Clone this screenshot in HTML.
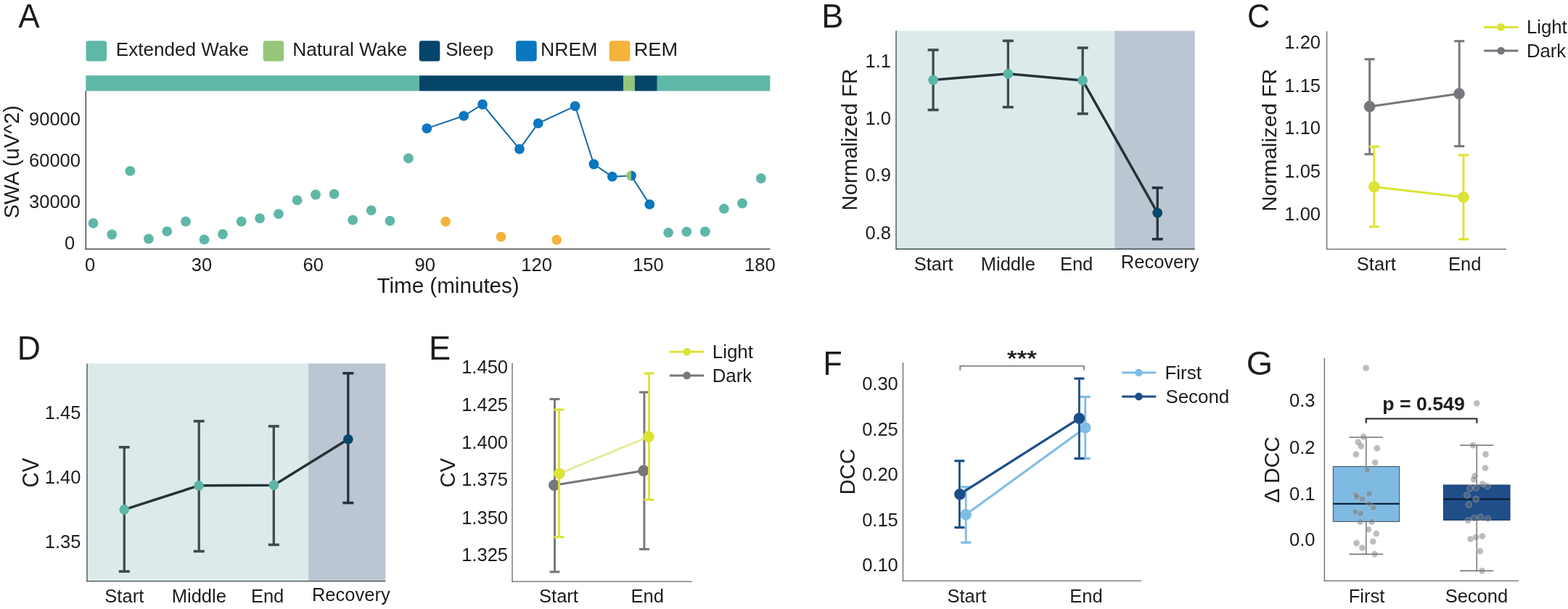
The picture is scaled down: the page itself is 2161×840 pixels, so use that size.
<!DOCTYPE html>
<html><head><meta charset="utf-8"><title>Figure</title>
<style>
html,body{margin:0;padding:0;background:#fff;}
body{width:2161px;height:840px;overflow:hidden;}
svg{display:block;font-family:"Liberation Sans", Arial, Helvetica, sans-serif;}
</style></head>
<body>
<svg width="2161" height="840" viewBox="0 0 2161 840">
<rect x="0" y="0" width="2161" height="840" fill="#fff"/>
<text x="25.21" y="38.10" font-size="46" fill="#1c1c1c" textLength="29.47" lengthAdjust="spacingAndGlyphs">A</text>
<rect x="118.5" y="56.2" width="28.6" height="28.2" rx="3.5" fill="#5fb7a8"/>
<rect x="362.6" y="56.2" width="28.6" height="28.2" rx="3.5" fill="#95c67a"/>
<rect x="577.7" y="56.2" width="28.6" height="28.2" rx="3.5" fill="#044569"/>
<rect x="711.1" y="56.2" width="28.6" height="28.2" rx="3.5" fill="#0a77bf"/>
<rect x="839.8" y="56.2" width="28.6" height="28.2" rx="3.5" fill="#f4b33d"/>
<text x="159.87" y="76.90" font-size="26.5" fill="#1c1c1c" textLength="183.08" lengthAdjust="spacingAndGlyphs">Extended Wake</text>
<text x="403.26" y="76.90" font-size="26.5" fill="#1c1c1c" textLength="157.90" lengthAdjust="spacingAndGlyphs">Natural Wake</text>
<text x="614.13" y="76.90" font-size="26.5" fill="#1c1c1c" textLength="66.06" lengthAdjust="spacingAndGlyphs">Sleep</text>
<text x="745.02" y="76.90" font-size="26.5" fill="#1c1c1c" textLength="78.26" lengthAdjust="spacingAndGlyphs">NREM</text>
<text x="873.78" y="76.90" font-size="26.5" fill="#1c1c1c" textLength="60.25" lengthAdjust="spacingAndGlyphs">REM</text>
<rect x="118.3" y="104.2" width="459.7" height="21.3" fill="#5fb7a8"/>
<rect x="578.0" y="104.2" width="281.3" height="21.3" fill="#044569"/>
<rect x="859.3" y="104.2" width="15.5" height="21.3" fill="#95c67a"/>
<rect x="874.8" y="104.2" width="31.0" height="21.3" fill="#044569"/>
<rect x="905.8" y="104.2" width="155.5" height="21.3" fill="#5fb7a8"/>
<line x1="118.3" y1="125.5" x2="118.3" y2="344.3" stroke="#4a4a4a" stroke-width="1.5"/>
<line x1="117.6" y1="343.6" x2="1061.5" y2="343.6" stroke="#4a4a4a" stroke-width="1.5"/>
<text x="111.0" y="172.7" font-size="25.5" text-anchor="end" fill="#1c1c1c">90000</text>
<text x="111.0" y="230.1" font-size="25.5" text-anchor="end" fill="#1c1c1c">60000</text>
<text x="111.0" y="287.3" font-size="25.5" text-anchor="end" fill="#1c1c1c">30000</text>
<text x="103.1" y="344.3" font-size="25.5" text-anchor="end" fill="#1c1c1c">0</text>
<text x="124.1" y="373.5" font-size="25.5" text-anchor="middle" fill="#1c1c1c">0</text>
<text x="278.0" y="373.5" font-size="25.5" text-anchor="middle" fill="#1c1c1c">30</text>
<text x="431.8" y="373.5" font-size="25.5" text-anchor="middle" fill="#1c1c1c">60</text>
<text x="585.7" y="373.5" font-size="25.5" text-anchor="middle" fill="#1c1c1c">90</text>
<text x="739.6" y="373.5" font-size="25.5" text-anchor="middle" fill="#1c1c1c">120</text>
<text x="893.4" y="373.5" font-size="25.5" text-anchor="middle" fill="#1c1c1c">150</text>
<text x="1047.3" y="373.5" font-size="25.5" text-anchor="middle" fill="#1c1c1c">180</text>
<text x="519.44" y="404.40" font-size="29.3" fill="#1c1c1c" textLength="196.29" lengthAdjust="spacingAndGlyphs">Time (minutes)</text>
<text transform="translate(25.80,301.29) rotate(-90)" x="0" y="0" font-size="29.8" fill="#1c1c1c" textLength="155.96" lengthAdjust="spacingAndGlyphs">SWA (uV^2)</text>
<circle cx="128.5" cy="307.9" r="6.9" fill="#5fb7a8"/>
<circle cx="154.2" cy="323.5" r="6.9" fill="#5fb7a8"/>
<circle cx="179.4" cy="235.9" r="6.9" fill="#5fb7a8"/>
<circle cx="204.8" cy="329.3" r="6.9" fill="#5fb7a8"/>
<circle cx="230.3" cy="319.2" r="6.9" fill="#5fb7a8"/>
<circle cx="256.0" cy="305.5" r="6.9" fill="#5fb7a8"/>
<circle cx="281.5" cy="330.4" r="6.9" fill="#5fb7a8"/>
<circle cx="307.0" cy="323.0" r="6.9" fill="#5fb7a8"/>
<circle cx="332.7" cy="305.5" r="6.9" fill="#5fb7a8"/>
<circle cx="358.1" cy="301.1" r="6.9" fill="#5fb7a8"/>
<circle cx="383.9" cy="295.1" r="6.9" fill="#5fb7a8"/>
<circle cx="409.6" cy="276.2" r="6.9" fill="#5fb7a8"/>
<circle cx="435.0" cy="268.5" r="6.9" fill="#5fb7a8"/>
<circle cx="460.5" cy="267.7" r="6.9" fill="#5fb7a8"/>
<circle cx="486.2" cy="303.3" r="6.9" fill="#5fb7a8"/>
<circle cx="511.7" cy="290.1" r="6.9" fill="#5fb7a8"/>
<circle cx="537.4" cy="304.7" r="6.9" fill="#5fb7a8"/>
<circle cx="562.9" cy="218.4" r="6.9" fill="#5fb7a8"/>
<circle cx="921.1" cy="320.8" r="6.9" fill="#5fb7a8"/>
<circle cx="946.3" cy="319.7" r="6.9" fill="#5fb7a8"/>
<circle cx="971.8" cy="319.5" r="6.9" fill="#5fb7a8"/>
<circle cx="997.8" cy="287.9" r="6.9" fill="#5fb7a8"/>
<circle cx="1023.0" cy="280.5" r="6.9" fill="#5fb7a8"/>
<circle cx="1048.8" cy="246.0" r="6.9" fill="#5fb7a8"/>
<circle cx="614.1" cy="305.7" r="6.9" fill="#f4b33d"/>
<circle cx="690.5" cy="326.7" r="6.9" fill="#f4b33d"/>
<circle cx="767.2" cy="330.8" r="6.9" fill="#f4b33d"/>
<polyline points="588.3,177.1 639.2,159.8 665.0,144.0 716.0,205.7 741.7,170.1 792.6,146.3 818.4,226.5 843.8,243.7 869.9,242.3 895.3,281.9" fill="none" stroke="#1668a6" stroke-width="2.0" stroke-linejoin="round"/>
<circle cx="588.3" cy="177.1" r="6.9" fill="#0a77bf"/>
<circle cx="639.2" cy="159.8" r="6.9" fill="#0a77bf"/>
<circle cx="665.0" cy="144.0" r="6.9" fill="#0a77bf"/>
<circle cx="716.0" cy="205.7" r="6.9" fill="#0a77bf"/>
<circle cx="741.7" cy="170.1" r="6.9" fill="#0a77bf"/>
<circle cx="792.6" cy="146.3" r="6.9" fill="#0a77bf"/>
<circle cx="818.4" cy="226.5" r="6.9" fill="#0a77bf"/>
<circle cx="843.8" cy="243.7" r="6.9" fill="#0a77bf"/>
<circle cx="869.9" cy="242.3" r="6.9" fill="#95c67a"/>
<path d="M869.9,235.4 A6.9,6.9 0 0 1 869.9,249.2 Z" fill="#0a77bf"/>
<circle cx="895.3" cy="281.9" r="6.9" fill="#0a77bf"/>
<text x="1132.29" y="37.70" font-size="46" fill="#1c1c1c" textLength="30.20" lengthAdjust="spacingAndGlyphs">B</text>
<rect x="1235.0" y="42.5" width="301.1" height="301.0" fill="#dcebea"/>
<rect x="1536.1" y="42.5" width="110.6" height="301.0" fill="#bcc6d2"/>
<line x1="1235.0" y1="42.5" x2="1235.0" y2="344.1" stroke="#3b474d" stroke-width="1.3"/>
<line x1="1234.4" y1="343.5" x2="1646.7" y2="343.5" stroke="#3b474d" stroke-width="1.3"/>
<text x="1228.0" y="92.7" font-size="25.5" text-anchor="end" fill="#1c1c1c">1.1</text>
<text x="1228.0" y="171.6" font-size="25.5" text-anchor="end" fill="#1c1c1c">1.0</text>
<text x="1228.0" y="250.1" font-size="25.5" text-anchor="end" fill="#1c1c1c">0.9</text>
<text x="1228.0" y="329.7" font-size="25.5" text-anchor="end" fill="#1c1c1c">0.8</text>
<text x="1286.7" y="372.6" font-size="25.5" text-anchor="middle" fill="#1c1c1c">Start</text>
<text x="1389.3" y="372.6" font-size="25.5" text-anchor="middle" fill="#1c1c1c">Middle</text>
<text x="1483.6" y="372.6" font-size="25.5" text-anchor="middle" fill="#1c1c1c">End</text>
<text x="1598.7" y="370.2" font-size="25.5" text-anchor="middle" fill="#1c1c1c">Recovery</text>
<text transform="translate(1180.90,290.51) rotate(-90)" x="0" y="0" font-size="29.0" fill="#1c1c1c" textLength="195.67" lengthAdjust="spacingAndGlyphs">Normalized FR</text>
<line x1="1286.1" y1="68.9" x2="1286.1" y2="151.6" stroke="#3d4b4e" stroke-width="3.3"/>
<line x1="1278.6" y1="68.9" x2="1293.6" y2="68.9" stroke="#3d4b4e" stroke-width="3.6"/>
<line x1="1278.6" y1="151.6" x2="1293.6" y2="151.6" stroke="#3d4b4e" stroke-width="3.6"/>
<line x1="1389.3" y1="56.3" x2="1389.3" y2="147.8" stroke="#3d4b4e" stroke-width="3.3"/>
<line x1="1381.8" y1="56.3" x2="1396.8" y2="56.3" stroke="#3d4b4e" stroke-width="3.6"/>
<line x1="1381.8" y1="147.8" x2="1396.8" y2="147.8" stroke="#3d4b4e" stroke-width="3.6"/>
<line x1="1492.1" y1="66.0" x2="1492.1" y2="156.9" stroke="#3d4b4e" stroke-width="3.3"/>
<line x1="1484.6" y1="66.0" x2="1499.6" y2="66.0" stroke="#3d4b4e" stroke-width="3.6"/>
<line x1="1484.6" y1="156.9" x2="1499.6" y2="156.9" stroke="#3d4b4e" stroke-width="3.6"/>
<line x1="1595.2" y1="259.0" x2="1595.2" y2="329.8" stroke="#26303e" stroke-width="3.3"/>
<line x1="1587.7" y1="259.0" x2="1602.7" y2="259.0" stroke="#26303e" stroke-width="3.6"/>
<line x1="1587.7" y1="329.8" x2="1602.7" y2="329.8" stroke="#26303e" stroke-width="3.6"/>
<polyline points="1286.1,110.3 1389.3,101.8 1492.1,110.9 1595.2,293.6" fill="none" stroke="#263238" stroke-width="3.5" stroke-linejoin="round"/>
<circle cx="1286.1" cy="110.3" r="6.9" fill="#5db5a6"/>
<circle cx="1389.3" cy="101.8" r="6.9" fill="#5db5a6"/>
<circle cx="1492.1" cy="110.9" r="6.9" fill="#5db5a6"/>
<circle cx="1595.2" cy="293.6" r="6.9" fill="#08466c"/>
<text x="1718.99" y="37.60" font-size="46" fill="#1c1c1c" textLength="31.36" lengthAdjust="spacingAndGlyphs">C</text>
<line x1="1828.6" y1="43.0" x2="1828.6" y2="344.3" stroke="#666" stroke-width="1.3"/>
<line x1="1828.0" y1="343.7" x2="2076.0" y2="343.7" stroke="#666" stroke-width="1.3"/>
<text x="1820.0" y="67.1" font-size="25.5" text-anchor="end" fill="#1c1c1c">1.20</text>
<text x="1820.0" y="126.5" font-size="25.5" text-anchor="end" fill="#1c1c1c">1.15</text>
<text x="1820.0" y="184.7" font-size="25.5" text-anchor="end" fill="#1c1c1c">1.10</text>
<text x="1820.0" y="244.7" font-size="25.5" text-anchor="end" fill="#1c1c1c">1.05</text>
<text x="1820.0" y="303.6" font-size="25.5" text-anchor="end" fill="#1c1c1c">1.00</text>
<text x="1896.8" y="373.0" font-size="25.5" text-anchor="middle" fill="#1c1c1c">Start</text>
<text x="2018.8" y="373.0" font-size="25.5" text-anchor="middle" fill="#1c1c1c">End</text>
<text transform="translate(1758.70,291.82) rotate(-90)" x="0" y="0" font-size="28.5" fill="#1c1c1c" textLength="196.99" lengthAdjust="spacingAndGlyphs">Normalized FR</text>
<line x1="1887.6" y1="81.7" x2="1887.6" y2="212.7" stroke="#76777d" stroke-width="2.9"/>
<line x1="1880.6" y1="81.7" x2="1894.6" y2="81.7" stroke="#76777d" stroke-width="3.1"/>
<line x1="1880.6" y1="212.7" x2="1894.6" y2="212.7" stroke="#76777d" stroke-width="3.1"/>
<line x1="2011.2" y1="56.7" x2="2011.2" y2="201.7" stroke="#76777d" stroke-width="2.9"/>
<line x1="2004.2" y1="56.7" x2="2018.2" y2="56.7" stroke="#76777d" stroke-width="3.1"/>
<line x1="2004.2" y1="201.7" x2="2018.2" y2="201.7" stroke="#76777d" stroke-width="3.1"/>
<polyline points="1887.6,146.9 2011.0,129.3" fill="none" stroke="#76777d" stroke-width="3.0" stroke-linejoin="round"/>
<circle cx="1887.6" cy="146.9" r="7.8" fill="#76777d"/>
<circle cx="2011.0" cy="129.3" r="7.8" fill="#76777d"/>
<line x1="1893.8" y1="202.3" x2="1893.8" y2="312.8" stroke="#dde334" stroke-width="2.9"/>
<line x1="1886.8" y1="202.3" x2="1900.8" y2="202.3" stroke="#dde334" stroke-width="3.1"/>
<line x1="1886.8" y1="312.8" x2="1900.8" y2="312.8" stroke="#dde334" stroke-width="3.1"/>
<line x1="2017.0" y1="214.0" x2="2017.0" y2="330.0" stroke="#dde334" stroke-width="2.9"/>
<line x1="2010.0" y1="214.0" x2="2024.0" y2="214.0" stroke="#dde334" stroke-width="3.1"/>
<line x1="2010.0" y1="330.0" x2="2024.0" y2="330.0" stroke="#dde334" stroke-width="3.1"/>
<polyline points="1893.8,257.8 2017.0,272.1" fill="none" stroke="#dde334" stroke-width="3.0" stroke-linejoin="round"/>
<circle cx="1893.8" cy="257.8" r="7.8" fill="#dde334"/>
<circle cx="2017.0" cy="272.1" r="7.8" fill="#dde334"/>
<line x1="2045.2" y1="37.4" x2="2092.4" y2="37.4" stroke="#dde334" stroke-width="3.0"/>
<circle cx="2068.6" cy="37.4" r="5.3" fill="#dde334"/>
<line x1="2045.2" y1="70.0" x2="2092.4" y2="70.0" stroke="#76777d" stroke-width="3.0"/>
<circle cx="2068.6" cy="70.0" r="5.3" fill="#76777d"/>
<text x="2103.89" y="46.00" font-size="25.8" fill="#1c1c1c" textLength="55.90" lengthAdjust="spacingAndGlyphs">Light</text>
<text x="2103.89" y="78.60" font-size="25.8" fill="#1c1c1c" textLength="54.37" lengthAdjust="spacingAndGlyphs">Dark</text>
<text x="23.75" y="496.00" font-size="46" fill="#1c1c1c" textLength="32.13" lengthAdjust="spacingAndGlyphs">D</text>
<rect x="120.0" y="501.4" width="305.1" height="300.2" fill="#dcebea"/>
<rect x="425.1" y="501.4" width="106.2" height="300.2" fill="#bcc6d2"/>
<line x1="120.0" y1="501.4" x2="120.0" y2="802.2" stroke="#3b474d" stroke-width="1.3"/>
<line x1="119.4" y1="801.6" x2="531.3" y2="801.6" stroke="#3b474d" stroke-width="1.3"/>
<text x="111.4" y="578.1" font-size="25.5" text-anchor="end" fill="#1c1c1c">1.45</text>
<text x="111.4" y="666.8" font-size="25.5" text-anchor="end" fill="#1c1c1c">1.40</text>
<text x="111.4" y="755.5" font-size="25.5" text-anchor="end" fill="#1c1c1c">1.35</text>
<text x="171.3" y="830.8" font-size="25.5" text-anchor="middle" fill="#1c1c1c">Start</text>
<text x="274.3" y="831.4" font-size="25.5" text-anchor="middle" fill="#1c1c1c">Middle</text>
<text x="368.6" y="831.4" font-size="25.5" text-anchor="middle" fill="#1c1c1c">End</text>
<text x="483.8" y="828.6" font-size="25.5" text-anchor="middle" fill="#1c1c1c">Recovery</text>
<text transform="translate(52.80,672.39) rotate(-90)" x="0" y="0" font-size="30.6" fill="#1c1c1c" textLength="40.72" lengthAdjust="spacingAndGlyphs">CV</text>
<line x1="171.3" y1="616.8" x2="171.3" y2="788.2" stroke="#3d4b4e" stroke-width="3.3"/>
<line x1="163.8" y1="616.8" x2="178.8" y2="616.8" stroke="#3d4b4e" stroke-width="3.6"/>
<line x1="163.8" y1="788.2" x2="178.8" y2="788.2" stroke="#3d4b4e" stroke-width="3.6"/>
<line x1="274.2" y1="580.9" x2="274.2" y2="760.4" stroke="#3d4b4e" stroke-width="3.3"/>
<line x1="266.7" y1="580.9" x2="281.7" y2="580.9" stroke="#3d4b4e" stroke-width="3.6"/>
<line x1="266.7" y1="760.4" x2="281.7" y2="760.4" stroke="#3d4b4e" stroke-width="3.6"/>
<line x1="377.3" y1="587.9" x2="377.3" y2="751.4" stroke="#3d4b4e" stroke-width="3.3"/>
<line x1="369.8" y1="587.9" x2="384.8" y2="587.9" stroke="#3d4b4e" stroke-width="3.6"/>
<line x1="369.8" y1="751.4" x2="384.8" y2="751.4" stroke="#3d4b4e" stroke-width="3.6"/>
<line x1="479.8" y1="514.8" x2="479.8" y2="693.6" stroke="#26303e" stroke-width="3.3"/>
<line x1="472.3" y1="514.8" x2="487.3" y2="514.8" stroke="#26303e" stroke-width="3.6"/>
<line x1="472.3" y1="693.6" x2="487.3" y2="693.6" stroke="#26303e" stroke-width="3.6"/>
<polyline points="171.3,702.8 273.9,669.8 377.4,669.2 479.8,605.8" fill="none" stroke="#263238" stroke-width="3.5" stroke-linejoin="round"/>
<circle cx="171.3" cy="702.8" r="6.9" fill="#5db5a6"/>
<circle cx="273.9" cy="669.8" r="6.9" fill="#5db5a6"/>
<circle cx="377.4" cy="669.2" r="6.9" fill="#5db5a6"/>
<circle cx="479.8" cy="605.8" r="6.9" fill="#08466c"/>
<text x="591.09" y="496.40" font-size="46" fill="#1c1c1c" textLength="30.15" lengthAdjust="spacingAndGlyphs">E</text>
<line x1="706.0" y1="500.7" x2="706.0" y2="802.8" stroke="#666" stroke-width="1.3"/>
<line x1="705.4" y1="802.2" x2="953.8" y2="802.2" stroke="#666" stroke-width="1.3"/>
<text x="700.0" y="515.1" font-size="25.5" text-anchor="end" fill="#1c1c1c">1.450</text>
<text x="700.0" y="567.4" font-size="25.5" text-anchor="end" fill="#1c1c1c">1.425</text>
<text x="700.0" y="618.7" font-size="25.5" text-anchor="end" fill="#1c1c1c">1.400</text>
<text x="700.0" y="670.4" font-size="25.5" text-anchor="end" fill="#1c1c1c">1.375</text>
<text x="700.0" y="722.6" font-size="25.5" text-anchor="end" fill="#1c1c1c">1.350</text>
<text x="700.0" y="774.1" font-size="25.5" text-anchor="end" fill="#1c1c1c">1.325</text>
<text x="770.0" y="831.3" font-size="25.5" text-anchor="middle" fill="#1c1c1c">Start</text>
<text x="892.3" y="831.3" font-size="25.5" text-anchor="middle" fill="#1c1c1c">End</text>
<text transform="translate(626.60,672.38) rotate(-90)" x="0" y="0" font-size="30.0" fill="#1c1c1c" textLength="40.51" lengthAdjust="spacingAndGlyphs">CV</text>
<line x1="764.5" y1="550.5" x2="764.5" y2="788.8" stroke="#76777d" stroke-width="2.9"/>
<line x1="757.5" y1="550.5" x2="771.5" y2="550.5" stroke="#76777d" stroke-width="3.1"/>
<line x1="757.5" y1="788.8" x2="771.5" y2="788.8" stroke="#76777d" stroke-width="3.1"/>
<line x1="887.9" y1="541.0" x2="887.9" y2="757.5" stroke="#76777d" stroke-width="2.9"/>
<line x1="880.9" y1="541.0" x2="894.9" y2="541.0" stroke="#76777d" stroke-width="3.1"/>
<line x1="880.9" y1="757.5" x2="894.9" y2="757.5" stroke="#76777d" stroke-width="3.1"/>
<polyline points="763.8,669.3 887.0,649.3" fill="none" stroke="#76777d" stroke-width="3.0" stroke-linejoin="round"/>
<circle cx="763.8" cy="669.3" r="7.8" fill="#76777d"/>
<circle cx="887.0" cy="649.3" r="7.8" fill="#76777d"/>
<line x1="770.5" y1="565.0" x2="770.5" y2="740.8" stroke="#dde334" stroke-width="2.9"/>
<line x1="763.5" y1="565.0" x2="777.5" y2="565.0" stroke="#dde334" stroke-width="3.1"/>
<line x1="763.5" y1="740.8" x2="777.5" y2="740.8" stroke="#dde334" stroke-width="3.1"/>
<line x1="894.5" y1="515.0" x2="894.5" y2="689.3" stroke="#dde334" stroke-width="2.9"/>
<line x1="887.5" y1="515.0" x2="901.5" y2="515.0" stroke="#dde334" stroke-width="3.1"/>
<line x1="887.5" y1="689.3" x2="901.5" y2="689.3" stroke="#dde334" stroke-width="3.1"/>
<polyline points="770.8,653.3 893.8,602.4" fill="none" stroke="#e6eb9a" stroke-width="3.0" stroke-linejoin="round"/>
<circle cx="770.8" cy="653.3" r="7.8" fill="#dde334"/>
<circle cx="893.8" cy="602.4" r="7.8" fill="#dde334"/>
<line x1="922.9" y1="485.2" x2="970.0" y2="485.2" stroke="#dde334" stroke-width="3.0"/>
<circle cx="946.7" cy="485.2" r="5.3" fill="#dde334"/>
<line x1="922.9" y1="517.9" x2="970.0" y2="517.9" stroke="#76777d" stroke-width="3.0"/>
<circle cx="946.7" cy="517.9" r="5.3" fill="#76777d"/>
<text x="981.67" y="494.00" font-size="25.8" fill="#1c1c1c" textLength="56.43" lengthAdjust="spacingAndGlyphs">Light</text>
<text x="981.68" y="526.60" font-size="25.8" fill="#1c1c1c" textLength="54.48" lengthAdjust="spacingAndGlyphs">Dark</text>
<text x="1134.48" y="516.50" font-size="46" fill="#1c1c1c" textLength="26.24" lengthAdjust="spacingAndGlyphs">F</text>
<line x1="1244.5" y1="500.0" x2="1244.5" y2="801.8" stroke="#666" stroke-width="1.3"/>
<line x1="1243.9" y1="801.2" x2="1572.8" y2="801.2" stroke="#666" stroke-width="1.3"/>
<text x="1237.8" y="538.1" font-size="25.5" text-anchor="end" fill="#1c1c1c">0.30</text>
<text x="1237.8" y="600.6" font-size="25.5" text-anchor="end" fill="#1c1c1c">0.25</text>
<text x="1237.8" y="663.4" font-size="25.5" text-anchor="end" fill="#1c1c1c">0.20</text>
<text x="1237.8" y="726.2" font-size="25.5" text-anchor="end" fill="#1c1c1c">0.15</text>
<text x="1237.8" y="788.4" font-size="25.5" text-anchor="end" fill="#1c1c1c">0.10</text>
<text x="1332.4" y="830.5" font-size="25.5" text-anchor="middle" fill="#1c1c1c">Start</text>
<text x="1496.9" y="830.5" font-size="25.5" text-anchor="middle" fill="#1c1c1c">End</text>
<text transform="translate(1178.30,682.41) rotate(-90)" x="0" y="0" font-size="29.7" fill="#1c1c1c" textLength="63.52" lengthAdjust="spacingAndGlyphs">DCC</text>
<polyline points="1323.2,510.7 1323.2,504.9 1493.9,504.9 1493.9,510.7" fill="none" stroke="#555" stroke-width="1.3"/>
<text x="1388.04" y="504.30" font-size="30" fill="#1c1c1c" textLength="40.81" lengthAdjust="spacingAndGlyphs" stroke="#1c1c1c" stroke-width="0.6">***</text>
<line x1="1331.2" y1="671.7" x2="1331.2" y2="748.3" stroke="#7fbde6" stroke-width="2.8"/>
<line x1="1324.2" y1="671.7" x2="1338.2" y2="671.7" stroke="#7fbde6" stroke-width="3.2"/>
<line x1="1324.2" y1="748.3" x2="1338.2" y2="748.3" stroke="#7fbde6" stroke-width="3.2"/>
<line x1="1495.7" y1="547.4" x2="1495.7" y2="632.4" stroke="#7fbde6" stroke-width="2.8"/>
<line x1="1488.7" y1="547.4" x2="1502.7" y2="547.4" stroke="#7fbde6" stroke-width="3.2"/>
<line x1="1488.7" y1="632.4" x2="1502.7" y2="632.4" stroke="#7fbde6" stroke-width="3.2"/>
<polyline points="1331.2,709.8 1495.7,590.0" fill="none" stroke="#7fbde6" stroke-width="3.2" stroke-linejoin="round"/>
<circle cx="1331.2" cy="709.8" r="7.8" fill="#7fbde6"/>
<circle cx="1495.7" cy="590.0" r="7.8" fill="#7fbde6"/>
<line x1="1322.4" y1="635.7" x2="1322.4" y2="727.6" stroke="#1c4e8b" stroke-width="2.8"/>
<line x1="1315.4" y1="635.7" x2="1329.4" y2="635.7" stroke="#1c4e8b" stroke-width="3.2"/>
<line x1="1315.4" y1="727.6" x2="1329.4" y2="727.6" stroke="#1c4e8b" stroke-width="3.2"/>
<line x1="1487.4" y1="522.1" x2="1487.4" y2="632.4" stroke="#1c4e8b" stroke-width="2.8"/>
<line x1="1480.4" y1="522.1" x2="1494.4" y2="522.1" stroke="#1c4e8b" stroke-width="3.2"/>
<line x1="1480.4" y1="632.4" x2="1494.4" y2="632.4" stroke="#1c4e8b" stroke-width="3.2"/>
<polyline points="1322.9,681.7 1487.4,577.1" fill="none" stroke="#1c4e8b" stroke-width="3.2" stroke-linejoin="round"/>
<circle cx="1322.9" cy="681.7" r="7.8" fill="#1c4e8b"/>
<circle cx="1487.4" cy="577.1" r="7.8" fill="#1c4e8b"/>
<line x1="1546.2" y1="514.0" x2="1593.3" y2="514.0" stroke="#7fbde6" stroke-width="3.0"/>
<circle cx="1569.5" cy="514.0" r="5.3" fill="#7fbde6"/>
<line x1="1546.2" y1="546.9" x2="1593.3" y2="546.9" stroke="#1c4e8b" stroke-width="3.0"/>
<circle cx="1569.5" cy="546.9" r="5.3" fill="#1c4e8b"/>
<text x="1605.47" y="522.90" font-size="25.8" fill="#1c1c1c" textLength="50.42" lengthAdjust="spacingAndGlyphs">First</text>
<text x="1606.42" y="555.70" font-size="25.8" fill="#1c1c1c" textLength="87.85" lengthAdjust="spacingAndGlyphs">Second</text>
<text x="1717.85" y="516.60" font-size="46" fill="#1c1c1c" textLength="36.34" lengthAdjust="spacingAndGlyphs">G</text>
<line x1="1825.3" y1="494.0" x2="1825.3" y2="801.8" stroke="#666" stroke-width="1.3"/>
<line x1="1824.7" y1="801.2" x2="2093.0" y2="801.2" stroke="#666" stroke-width="1.3"/>
<text x="1812.5" y="561.4" font-size="25.5" text-anchor="end" fill="#1c1c1c">0.3</text>
<text x="1812.5" y="625.6" font-size="25.5" text-anchor="end" fill="#1c1c1c">0.2</text>
<text x="1812.5" y="689.5" font-size="25.5" text-anchor="end" fill="#1c1c1c">0.1</text>
<text x="1812.5" y="752.9" font-size="25.5" text-anchor="end" fill="#1c1c1c">0.0</text>
<text x="1883.6" y="831.2" font-size="25.5" text-anchor="middle" fill="#1c1c1c">First</text>
<text x="2034.9" y="831.2" font-size="25.5" text-anchor="middle" fill="#1c1c1c">Second</text>
<text transform="translate(1763.30,693.78) rotate(-90)" x="0" y="0" font-size="30.4" fill="#1c1c1c" textLength="91.80" lengthAdjust="spacingAndGlyphs">&#916; DCC</text>
<line x1="1882.8" y1="603.1" x2="1882.8" y2="764.3" stroke="#555" stroke-width="1.2"/>
<line x1="1859.5" y1="603.1" x2="1906.0" y2="603.1" stroke="#555" stroke-width="1.3"/>
<line x1="1859.5" y1="764.3" x2="1906.0" y2="764.3" stroke="#555" stroke-width="1.3"/>
<rect x="1837.3" y="643.5" width="91.4" height="75.9" fill="#7fbae3" stroke="#3a4a55" stroke-width="1"/>
<line x1="1837.3" y1="694.9" x2="1928.7" y2="694.9" stroke="#0a2035" stroke-width="2.1"/>
<line x1="2035.2" y1="614.2" x2="2035.2" y2="787.4" stroke="#555" stroke-width="1.2"/>
<line x1="2012.0" y1="614.2" x2="2058.4" y2="614.2" stroke="#555" stroke-width="1.3"/>
<line x1="2012.0" y1="787.4" x2="2058.4" y2="787.4" stroke="#555" stroke-width="1.3"/>
<rect x="1989.4" y="669.0" width="91.6" height="48.4" fill="#1f4e89" stroke="#1a3a60" stroke-width="1"/>
<line x1="1989.4" y1="688.5" x2="2081.0" y2="688.5" stroke="#081526" stroke-width="2.1"/>
<circle cx="1882.6" cy="507.6" r="4.3" fill="#7a7a7a" fill-opacity="0.5" stroke="#d8d8d8" stroke-opacity="0.45" stroke-width="0.9"/>
<circle cx="1879.1" cy="602.4" r="4.3" fill="#7a7a7a" fill-opacity="0.5" stroke="#d8d8d8" stroke-opacity="0.45" stroke-width="0.9"/>
<circle cx="1871.9" cy="609.9" r="4.3" fill="#7a7a7a" fill-opacity="0.5" stroke="#d8d8d8" stroke-opacity="0.45" stroke-width="0.9"/>
<circle cx="1875.9" cy="615.4" r="4.3" fill="#7a7a7a" fill-opacity="0.5" stroke="#d8d8d8" stroke-opacity="0.45" stroke-width="0.9"/>
<circle cx="1897.9" cy="618.3" r="4.3" fill="#7a7a7a" fill-opacity="0.5" stroke="#d8d8d8" stroke-opacity="0.45" stroke-width="0.9"/>
<circle cx="1868.9" cy="626.7" r="4.3" fill="#7a7a7a" fill-opacity="0.5" stroke="#d8d8d8" stroke-opacity="0.45" stroke-width="0.9"/>
<circle cx="1895.2" cy="638.0" r="4.3" fill="#7a7a7a" fill-opacity="0.5" stroke="#d8d8d8" stroke-opacity="0.45" stroke-width="0.9"/>
<circle cx="1884.3" cy="647.9" r="4.3" fill="#7a7a7a" fill-opacity="0.5" stroke="#d8d8d8" stroke-opacity="0.45" stroke-width="0.9"/>
<circle cx="1868.5" cy="682.8" r="4.3" fill="#7a7a7a" fill-opacity="0.5" stroke="#d8d8d8" stroke-opacity="0.45" stroke-width="0.9"/>
<circle cx="1870.3" cy="685.5" r="4.3" fill="#7a7a7a" fill-opacity="0.5" stroke="#d8d8d8" stroke-opacity="0.45" stroke-width="0.9"/>
<circle cx="1877.5" cy="688.2" r="4.3" fill="#7a7a7a" fill-opacity="0.5" stroke="#d8d8d8" stroke-opacity="0.45" stroke-width="0.9"/>
<circle cx="1887.0" cy="680.8" r="4.3" fill="#7a7a7a" fill-opacity="0.5" stroke="#d8d8d8" stroke-opacity="0.45" stroke-width="0.9"/>
<circle cx="1887.0" cy="695.0" r="4.3" fill="#7a7a7a" fill-opacity="0.5" stroke="#d8d8d8" stroke-opacity="0.45" stroke-width="0.9"/>
<circle cx="1892.9" cy="700.2" r="4.3" fill="#7a7a7a" fill-opacity="0.5" stroke="#d8d8d8" stroke-opacity="0.45" stroke-width="0.9"/>
<circle cx="1868.0" cy="705.9" r="4.3" fill="#7a7a7a" fill-opacity="0.5" stroke="#d8d8d8" stroke-opacity="0.45" stroke-width="0.9"/>
<circle cx="1875.3" cy="708.2" r="4.3" fill="#7a7a7a" fill-opacity="0.5" stroke="#d8d8d8" stroke-opacity="0.45" stroke-width="0.9"/>
<circle cx="1874.6" cy="719.7" r="4.3" fill="#7a7a7a" fill-opacity="0.5" stroke="#d8d8d8" stroke-opacity="0.45" stroke-width="0.9"/>
<circle cx="1890.4" cy="719.7" r="4.3" fill="#7a7a7a" fill-opacity="0.5" stroke="#d8d8d8" stroke-opacity="0.45" stroke-width="0.9"/>
<circle cx="1885.9" cy="730.3" r="4.3" fill="#7a7a7a" fill-opacity="0.5" stroke="#d8d8d8" stroke-opacity="0.45" stroke-width="0.9"/>
<circle cx="1896.8" cy="736.0" r="4.3" fill="#7a7a7a" fill-opacity="0.5" stroke="#d8d8d8" stroke-opacity="0.45" stroke-width="0.9"/>
<circle cx="1869.6" cy="749.1" r="4.3" fill="#7a7a7a" fill-opacity="0.5" stroke="#d8d8d8" stroke-opacity="0.45" stroke-width="0.9"/>
<circle cx="1892.2" cy="746.9" r="4.3" fill="#7a7a7a" fill-opacity="0.5" stroke="#d8d8d8" stroke-opacity="0.45" stroke-width="0.9"/>
<circle cx="1877.5" cy="755.7" r="4.3" fill="#7a7a7a" fill-opacity="0.5" stroke="#d8d8d8" stroke-opacity="0.45" stroke-width="0.9"/>
<circle cx="1894.5" cy="764.3" r="4.3" fill="#7a7a7a" fill-opacity="0.5" stroke="#d8d8d8" stroke-opacity="0.45" stroke-width="0.9"/>
<circle cx="2035.2" cy="556.3" r="4.3" fill="#7a7a7a" fill-opacity="0.5" stroke="#d8d8d8" stroke-opacity="0.45" stroke-width="0.9"/>
<circle cx="2029.9" cy="614.2" r="4.3" fill="#7a7a7a" fill-opacity="0.5" stroke="#d8d8d8" stroke-opacity="0.45" stroke-width="0.9"/>
<circle cx="2047.5" cy="626.6" r="4.3" fill="#7a7a7a" fill-opacity="0.5" stroke="#d8d8d8" stroke-opacity="0.45" stroke-width="0.9"/>
<circle cx="2046.9" cy="645.5" r="4.3" fill="#7a7a7a" fill-opacity="0.5" stroke="#d8d8d8" stroke-opacity="0.45" stroke-width="0.9"/>
<circle cx="2032.7" cy="656.3" r="4.3" fill="#7a7a7a" fill-opacity="0.5" stroke="#d8d8d8" stroke-opacity="0.45" stroke-width="0.9"/>
<circle cx="2031.1" cy="661.2" r="4.3" fill="#7a7a7a" fill-opacity="0.5" stroke="#d8d8d8" stroke-opacity="0.45" stroke-width="0.9"/>
<circle cx="2043.5" cy="667.4" r="4.3" fill="#7a7a7a" fill-opacity="0.5" stroke="#d8d8d8" stroke-opacity="0.45" stroke-width="0.9"/>
<circle cx="2049.7" cy="670.5" r="4.3" fill="#7a7a7a" fill-opacity="0.5" stroke="#d8d8d8" stroke-opacity="0.45" stroke-width="0.9"/>
<circle cx="2026.2" cy="673.6" r="4.3" fill="#7a7a7a" fill-opacity="0.5" stroke="#d8d8d8" stroke-opacity="0.45" stroke-width="0.9"/>
<circle cx="2034.2" cy="673.0" r="4.3" fill="#7a7a7a" fill-opacity="0.5" stroke="#d8d8d8" stroke-opacity="0.45" stroke-width="0.9"/>
<circle cx="2021.9" cy="683.2" r="4.3" fill="#7a7a7a" fill-opacity="0.5" stroke="#d8d8d8" stroke-opacity="0.45" stroke-width="0.9"/>
<circle cx="2034.2" cy="688.5" r="4.3" fill="#7a7a7a" fill-opacity="0.5" stroke="#d8d8d8" stroke-opacity="0.45" stroke-width="0.9"/>
<circle cx="2024.3" cy="696.2" r="4.3" fill="#7a7a7a" fill-opacity="0.5" stroke="#d8d8d8" stroke-opacity="0.45" stroke-width="0.9"/>
<circle cx="2023.4" cy="717.9" r="4.3" fill="#7a7a7a" fill-opacity="0.5" stroke="#d8d8d8" stroke-opacity="0.45" stroke-width="0.9"/>
<circle cx="2031.8" cy="714.8" r="4.3" fill="#7a7a7a" fill-opacity="0.5" stroke="#d8d8d8" stroke-opacity="0.45" stroke-width="0.9"/>
<circle cx="2040.4" cy="713.2" r="4.3" fill="#7a7a7a" fill-opacity="0.5" stroke="#d8d8d8" stroke-opacity="0.45" stroke-width="0.9"/>
<circle cx="2050.6" cy="715.7" r="4.3" fill="#7a7a7a" fill-opacity="0.5" stroke="#d8d8d8" stroke-opacity="0.45" stroke-width="0.9"/>
<circle cx="2026.5" cy="743.5" r="4.3" fill="#7a7a7a" fill-opacity="0.5" stroke="#d8d8d8" stroke-opacity="0.45" stroke-width="0.9"/>
<circle cx="2034.2" cy="741.0" r="4.3" fill="#7a7a7a" fill-opacity="0.5" stroke="#d8d8d8" stroke-opacity="0.45" stroke-width="0.9"/>
<circle cx="2042.9" cy="739.5" r="4.3" fill="#7a7a7a" fill-opacity="0.5" stroke="#d8d8d8" stroke-opacity="0.45" stroke-width="0.9"/>
<circle cx="2039.8" cy="760.2" r="4.3" fill="#7a7a7a" fill-opacity="0.5" stroke="#d8d8d8" stroke-opacity="0.45" stroke-width="0.9"/>
<circle cx="2042.6" cy="787.4" r="4.3" fill="#7a7a7a" fill-opacity="0.5" stroke="#d8d8d8" stroke-opacity="0.45" stroke-width="0.9"/>
<polyline points="1882.7,583.7 1882.7,577.4 2035.4,577.4 2035.4,583.7" fill="none" stroke="#222" stroke-width="2"/>
<text x="1905.24" y="566.10" font-size="25.8" font-weight="bold" fill="#1c1c1c" textLength="113.55" lengthAdjust="spacingAndGlyphs">p = 0.549</text>
</svg>
</body></html>
